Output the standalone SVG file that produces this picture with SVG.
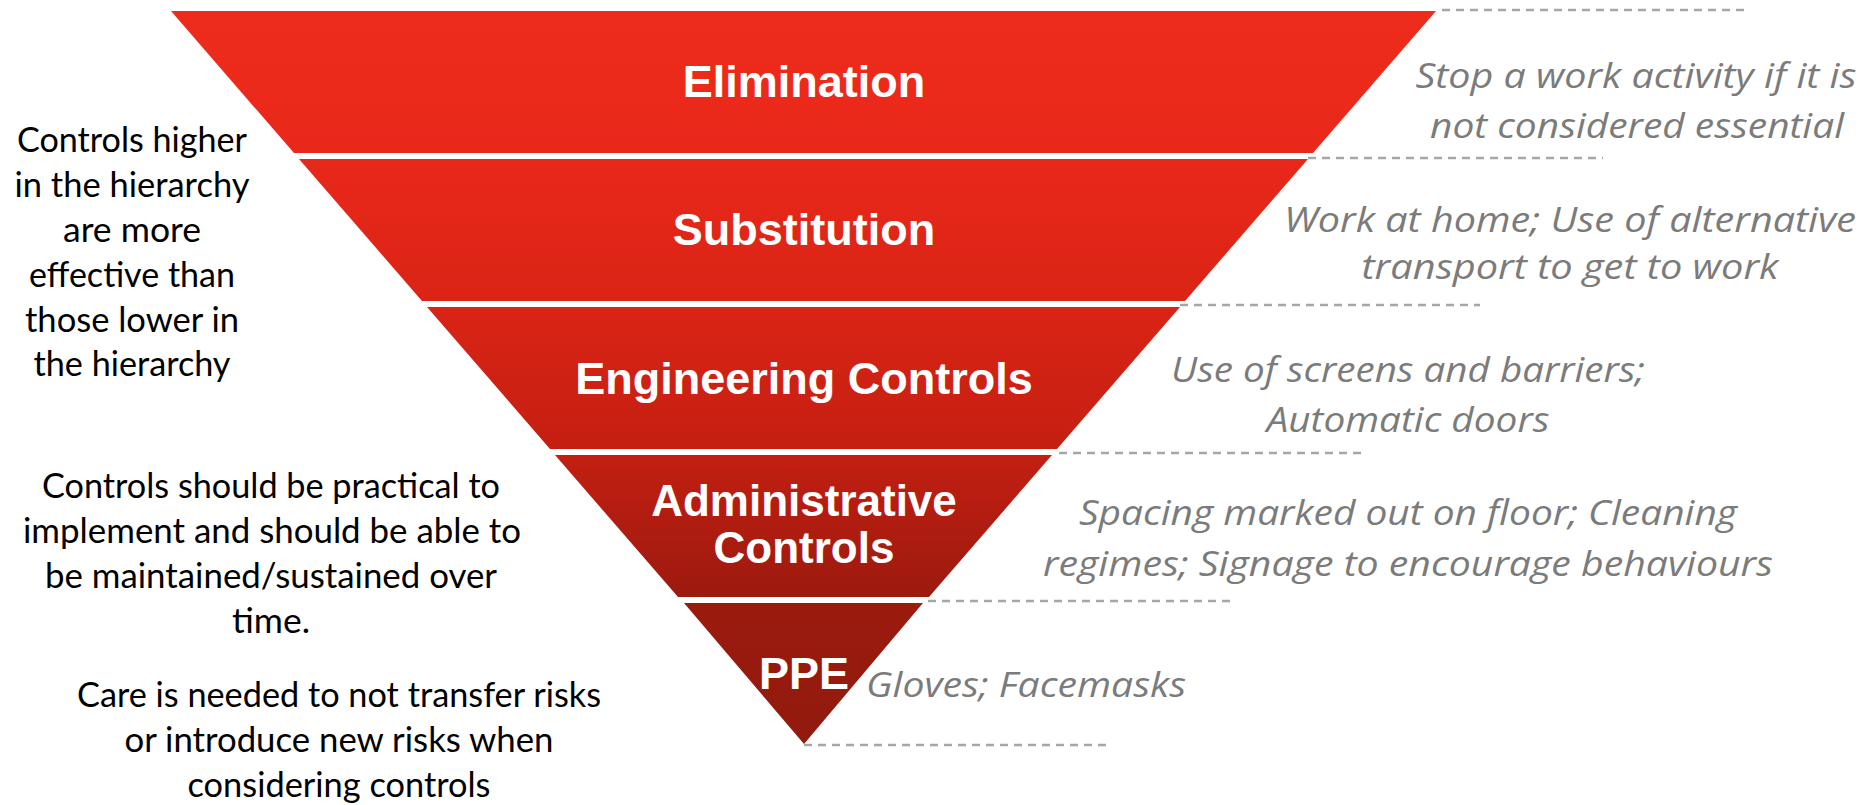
<svg xmlns="http://www.w3.org/2000/svg" width="1867" height="805" viewBox="0 0 1867 805">
<style>
.band{fill:url(#redgrad)}
.lbl{font-family:"Liberation Sans",Arial,sans-serif;font-weight:bold;font-size:45px;fill:#ffffff;text-anchor:middle}
.lbl2{font-size:44px}
.note{font-family:Lato,"Open Sans",sans-serif;font-size:34px;fill:#000000;text-anchor:middle}
.desc{font-family:"Open Sans","Noto Sans",sans-serif;font-style:italic;font-size:34px;fill:#7b7b7b;text-anchor:middle}
.dash{stroke:#a6a6a6;stroke-width:2.5;stroke-dasharray:8 6;fill:none}
</style>
<defs>
<linearGradient id="redgrad" gradientUnits="userSpaceOnUse" x1="0" y1="11" x2="0" y2="744">
<stop offset="0" stop-color="#ee2c1b"/>
<stop offset="0.2" stop-color="#e8281a"/>
<stop offset="0.4" stop-color="#da2415"/>
<stop offset="0.6" stop-color="#c41f12"/>
<stop offset="0.8" stop-color="#9c1a0e"/>
<stop offset="1" stop-color="#921a0f"/>
</linearGradient>
</defs>
<rect width="1867" height="805" fill="#ffffff"/>
<g id="elimination">
<polygon class="band" points="171,11 1436,11 1313,153 294,153"/>
<text class="lbl" x="804" y="97">Elimination</text>
</g>
<g id="substitution">
<polygon class="band" points="299,159 1308,159 1185,301 422,301"/>
<text class="lbl" x="804" y="245">Substitution</text>
</g>
<g id="engineering">
<polygon class="band" points="427,307 1180,307 1057,449 550,449"/>
<text class="lbl" x="804" y="394">Engineering Controls</text>
</g>
<g id="administrative">
<polygon class="band" points="555,455 1052,455 929,597 678,597"/>
<text class="lbl lbl2" x="804" y="516">Administrative</text>
<text class="lbl lbl2" x="804" y="563">Controls</text>
</g>
<g id="ppe">
<polygon class="band" points="684,603 923,603 804,744"/>
<text class="lbl" x="804" y="689">PPE</text>
</g>
<g id="connectors">
<line class="dash" x1="1442" y1="10" x2="1746" y2="10"/>
<line class="dash" x1="1308" y1="158" x2="1603" y2="158"/>
<line class="dash" x1="1180" y1="305" x2="1480" y2="305"/>
<line class="dash" x1="1059" y1="453" x2="1362" y2="453"/>
<line class="dash" x1="928" y1="601" x2="1230" y2="601"/>
<line class="dash" x1="804" y1="745" x2="1107" y2="745"/>
</g>
<g id="descriptions">
<text class="desc" x="1636" y="88" textLength="441" lengthAdjust="spacingAndGlyphs">Stop a work activity if it is</text>
<text class="desc" x="1637" y="138" textLength="414" lengthAdjust="spacingAndGlyphs">not considered essential</text>
<text class="desc" x="1570" y="232" textLength="572" lengthAdjust="spacingAndGlyphs">Work at home; Use of alternative</text>
<text class="desc" x="1570" y="279" textLength="417" lengthAdjust="spacingAndGlyphs">transport to get to work</text>
<text class="desc" x="1408" y="382" textLength="474" lengthAdjust="spacingAndGlyphs">Use of screens and barriers;</text>
<text class="desc" x="1408" y="432" textLength="283" lengthAdjust="spacingAndGlyphs">Automatic doors</text>
<text class="desc" x="1408" y="525" textLength="658" lengthAdjust="spacingAndGlyphs">Spacing marked out on floor; Cleaning</text>
<text class="desc" x="1408" y="576" textLength="730" lengthAdjust="spacingAndGlyphs">regimes; Signage to encourage behaviours</text>
<text class="desc" x="1026" y="697" textLength="320" lengthAdjust="spacingAndGlyphs">Gloves; Facemasks</text>
</g>
<g id="notes">
<text class="note" x="132" y="152" textLength="230" lengthAdjust="spacingAndGlyphs">Controls higher</text>
<text class="note" x="132" y="197" textLength="235" lengthAdjust="spacingAndGlyphs">in the hierarchy</text>
<text class="note" x="132" y="242" textLength="138" lengthAdjust="spacingAndGlyphs">are more</text>
<text class="note" x="132" y="287" textLength="206" lengthAdjust="spacingAndGlyphs">effective than</text>
<text class="note" x="132" y="332" textLength="214" lengthAdjust="spacingAndGlyphs">those lower in</text>
<text class="note" x="132" y="376" textLength="197" lengthAdjust="spacingAndGlyphs">the hierarchy</text>
<text class="note" x="271" y="498" textLength="458" lengthAdjust="spacingAndGlyphs">Controls should be practical to</text>
<text class="note" x="272" y="543" textLength="498" lengthAdjust="spacingAndGlyphs">implement and should be able to</text>
<text class="note" x="271" y="588" textLength="452" lengthAdjust="spacingAndGlyphs">be maintained/sustained over</text>
<text class="note" x="271" y="633" textLength="78" lengthAdjust="spacingAndGlyphs">time.</text>
<text class="note" x="339" y="707" textLength="524" lengthAdjust="spacingAndGlyphs">Care is needed to not transfer risks</text>
<text class="note" x="339" y="752" textLength="429" lengthAdjust="spacingAndGlyphs">or introduce new risks when</text>
<text class="note" x="339" y="797" textLength="303" lengthAdjust="spacingAndGlyphs">considering controls</text>
</g>
</svg>
